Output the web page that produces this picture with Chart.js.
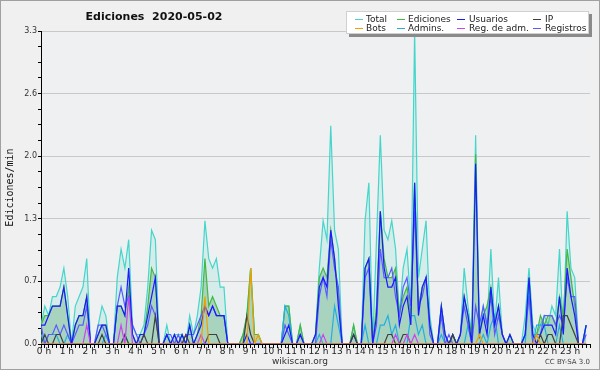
<!DOCTYPE html>
<html><head><meta charset="utf-8">
<script src="https://cdn.jsdelivr.net/npm/chart.js@4.4.1/dist/chart.umd.min.js"></script>
<style>html,body{margin:0;padding:0;background:#f0f0f0}canvas{display:block}</style>
</head><body>
<canvas id="c" width="600" height="370"></canvas>
<script>
// 10-minute slots (0..143) and hour tick labels
const slots = Array.from({length:144},(_,i)=>i);
const hourLabels = ['0 h','1 h','2 h','3 h','4 h','5 h','6 h','7 h','8 h','9 h','10 h','11 h','12 h','13 h','14 h','15 h','16 h','17 h','18 h','19 h','20 h','21 h','22 h','23 h'];
const seriesNames = ['Total','Ediciones','Usuarios','IP','Bots','Admins.','Reg. de adm.','Registros'];

const total = [
0.2,0.4,0.3,0.5,0.5,0.6, 0.8,0.5,0.0,0.4,0.5,0.6, 0.9,0.0,0.0,0.2,0.4,0.3, 0.0,0.0,0.7,1.0,0.8,1.1,
0.2,0.1,0.1,0.2,0.6,1.2, 1.1,0.0,0.0,0.2,0.0,0.1, 0.1,0.1,0.0,0.3,0.1,0.3, 0.6,1.3,0.9,0.8,0.9,0.6,
0.6,0.0,0.0,0.0,0.0,0.1, 0.3,0.8,0.1,0.1,0.0,0.0, 0.0,0.0,0.0,0.0,0.4,0.4, 0.0,0.0,0.2,0.0,0.0,0.0,
0.1,0.8,1.3,1.1,2.3,1.2, 1.0,0.0,0.0,0.0,0.2,0.0, 0.0,1.3,1.7,0.0,1.1,2.2, 1.2,1.1,1.3,1.0,0.3,0.8,
1.0,0.4,3.3,0.7,1.0,1.3, 0.3,0.0,0.0,0.4,0.1,0.0, 0.1,0.0,0.1,0.8,0.4,0.1, 2.2,0.1,0.4,0.2,1.0,0.2,
0.7,0.1,0.0,0.1,0.0,0.0, 0.0,0.3,0.8,0.2,0.1,0.2, 0.3,0.2,0.4,0.3,1.0,0.1, 1.4,0.8,0.7,0.0,0.0,0.2];

const ediciones = [
0.2,0.3,0.3,0.4,0.4,0.4, 0.6,0.3,0.0,0.2,0.3,0.3, 0.5,0.0,0.0,0.1,0.2,0.2, 0.0,0.0,0.4,0.4,0.3,0.6,
0.1,0.0,0.1,0.1,0.4,0.8, 0.7,0.0,0.0,0.1,0.0,0.1, 0.0,0.1,0.0,0.2,0.0,0.1, 0.3,0.9,0.4,0.5,0.4,0.3,
0.3,0.0,0.0,0.0,0.0,0.1, 0.3,0.8,0.1,0.1,0.0,0.0, 0.0,0.0,0.0,0.0,0.4,0.4, 0.0,0.0,0.2,0.0,0.0,0.0,
0.1,0.7,0.8,0.7,1.2,0.9, 0.5,0.0,0.0,0.0,0.2,0.0, 0.0,0.8,0.9,0.0,0.4,1.4, 0.9,0.7,0.7,0.8,0.3,0.5,
0.6,0.3,1.7,0.4,0.6,0.7, 0.2,0.0,0.0,0.4,0.1,0.0, 0.1,0.0,0.1,0.5,0.3,0.1, 2.0,0.1,0.3,0.4,0.6,0.2,
0.4,0.1,0.0,0.1,0.0,0.0, 0.0,0.1,0.7,0.1,0.1,0.3, 0.2,0.3,0.3,0.2,0.5,0.3, 1.0,0.7,0.4,0.0,0.0,0.2];

const usuarios = [
0.2,0.2,0.3,0.4,0.4,0.4, 0.6,0.3,0.0,0.2,0.3,0.3, 0.5,0.0,0.0,0.1,0.2,0.2, 0.0,0.0,0.4,0.4,0.3,0.8,
0.1,0.0,0.1,0.1,0.3,0.5, 0.7,0.0,0.0,0.1,0.0,0.1, 0.0,0.1,0.0,0.2,0.0,0.1, 0.2,0.4,0.3,0.4,0.3,0.3,
0.3,0.0,0.0,0.0,0.0,0.0, 0.1,0.0,0.0,0.0,0.0,0.0, 0.0,0.0,0.0,0.0,0.1,0.2, 0.0,0.0,0.1,0.0,0.0,0.0,
0.1,0.6,0.7,0.6,1.2,0.9, 0.4,0.0,0.0,0.0,0.1,0.0, 0.0,0.8,0.9,0.0,0.3,1.4, 0.8,0.6,0.6,0.7,0.2,0.4,
0.5,0.2,1.7,0.3,0.6,0.7, 0.2,0.0,0.0,0.4,0.1,0.0, 0.1,0.0,0.1,0.5,0.3,0.0, 1.9,0.1,0.3,0.1,0.6,0.2,
0.4,0.1,0.0,0.1,0.0,0.0, 0.0,0.1,0.7,0.1,0.0,0.1, 0.2,0.2,0.2,0.1,0.5,0.1, 0.8,0.5,0.3,0.0,0.0,0.2];

const ip = [
0,0.1,0,0,0.1,0.1, 0,0,0,0,0,0, 0,0,0,0,0.1,0, 0,0,0,0,0.1,0,
0,0,0,0.1,0,0, 0.3,0,0,0,0,0, 0,0,0.1,0,0,0, 0,0,0.1,0.1,0.1,0,
0,0,0,0,0,0, 0.3,0.1,0,0,0,0, 0,0,0,0,0,0, 0,0,0,0,0,0,
0,0,0,0,0,0, 0,0,0,0,0.1,0, 0,0,0,0,0,0, 0,0.1,0.1,0,0,0.1,
0.1,0,0,0,0,0, 0,0,0,0,0,0, 0.1,0,0,0,0,0, 0,0,0,0,0,0,
0,0,0,0,0,0, 0,0,0,0,0,0.1, 0,0.1,0.1,0,0,0.3, 0.3,0.2,0.1,0,0,0];

const bots = [
0,0,0,0,0,0, 0,0,0,0,0,0, 0,0,0,0,0,0, 0,0,0,0,0,0,
0,0,0,0,0,0, 0,0,0,0,0,0, 0,0,0,0,0,0, 0,0.5,0,0,0,0,
0,0,0,0,0,0, 0,0.8,0,0.1,0,0, 0,0,0,0,0,0, 0,0,0,0,0,0,
0,0,0,0,0,0, 0,0,0,0,0,0, 0,0,0,0,0,0, 0,0,0,0,0,0,
0,0,0,0,0,0, 0,0,0,0,0,0, 0,0,0,0,0,0, 0,0.1,0,0,0,0,
0,0,0,0,0,0, 0,0,0,0,0.1,0, 0,0,0,0,0,0, 0,0,0,0,0,0];

const admins = [
0.1,0,0.1,0.1,0.1,0, 0,0.1,0,0,0,0, 0,0,0,0,0,0.1, 0,0,0,0,0.1,0,
0,0,0,0,0,0, 0,0,0,0,0,0, 0,0,0,0,0,0, 0,0,0,0,0,0,
0,0,0,0,0,0, 0,0,0,0,0,0, 0,0,0,0,0.4,0.3, 0,0,0,0,0,0,
0,0.1,0,0,0,0.4, 0.2,0,0,0,0,0, 0,0.2,0,0,0,0.2, 0.2,0.3,0.1,0.2,0,0,
0,0.3,0.3,0.1,0.2,0, 0,0,0,0.1,0,0, 0,0,0,0,0.2,0, 0,0,0.1,0,0.2,0.3,
0,0,0,0,0,0, 0,0,0.6,0,0.2,0.2, 0.2,0,0,0,0.2,0, 0,0,0,0,0,0.2];

const regAdm = [
0,0,0,0,0,0, 0,0,0,0,0,0, 0.2,0,0,0,0,0, 0,0,0,0.2,0,0.5,
0,0,0,0,0,0, 0,0,0,0,0,0, 0,0,0,0,0,0, 0.1,0,0,0,0,0,
0,0,0,0,0,0, 0,0,0,0,0,0, 0,0,0,0,0,0, 0,0,0,0,0,0,
0,0,0.1,0,0,0, 0,0,0,0,0,0, 0,0,0,0,0,0, 0,0,0,0.1,0,0,
0.1,0,0.1,0,0,0, 0,0,0,0,0,0, 0,0,0,0,0,0, 0,0,0,0,0,0,
0,0,0,0,0,0, 0,0,0,0,0,0, 0,0,0,0,0,0, 0,0,0,0,0,0];

const registros = [
0.2,0.0,0.1,0.1,0.2,0.1, 0.2,0.1,0.0,0.1,0.2,0.2, 0.4,0.0,0.0,0.2,0.2,0.1, 0.0,0.0,0.4,0.6,0.4,0.5,
0.2,0.1,0.0,0.1,0.2,0.4, 0.3,0.0,0.0,0.1,0.1,0.0, 0.1,0.0,0.1,0.1,0.1,0.2, 0.3,0.4,0.3,0.4,0.3,0.3,
0.3,0.0,0.0,0.0,0.0,0.0, 0.0,0.0,0.0,0.0,0.0,0.0, 0.0,0.0,0.0,0.0,0.2,0.1, 0.0,0.0,0.1,0.0,0.0,0.0,
0.0,0.5,0.7,0.5,1.1,0.8, 0.6,0.0,0.0,0.0,0.0,0.0, 0.0,0.7,0.8,0.0,0.2,1.0, 0.7,0.7,0.8,0.5,0.3,0.6,
0.7,0.4,1.4,0.4,0.5,0.7, 0.1,0.0,0.0,0.3,0.0,0.1, 0.0,0.0,0.1,0.4,0.2,0.0, 0.4,0.2,0.4,0.2,0.5,0.1,
0.3,0.1,0.0,0.0,0.0,0.0, 0.0,0.1,0.5,0.0,0.1,0.1, 0.3,0.3,0.3,0.2,0.3,0.2, 0.7,0.5,0.5,0.0,0.0,0.1];

const colors = ['#44d6ca','#44b844','#1a1aff','#404040','#f0a000','#22b0e2','#cc44ee','#5a5aff'];
const seriesData = [total, ediciones, usuarios, ip, bots, admins, regAdm, registros];
const drawOrder = [10, 9, 5, 4, 2, 7, 3, 6];
const fills = ['rgba(90,215,195,0.16)','rgba(75,160,95,0.32)',false,false,false,false,false,false];

const datasets = seriesNames.map((n,k)=>({
  label:n, data:seriesData[k], borderColor:colors[k], backgroundColor:fills[k]||colors[k],
  fill: fills[k] ? 'origin' : false, order:drawOrder[k], borderWidth:1.2, pointRadius:0, tension:0
}));

const FONT = 'DejaVu Sans';
const deco = {
  id:'deco',
  beforeDraw(chart){
    const c = chart.ctx, a = chart.chartArea;
    c.save();
    c.fillStyle = '#f0f0f0'; c.fillRect(0,0,600,370);
    c.fillStyle = '#eef0f2'; c.fillRect(a.left,a.top,a.right-a.left,a.bottom-a.top);
    c.restore();
  },
  afterDraw(chart){
    const c = chart.ctx;
    c.save();
    // title
    c.fillStyle = '#111'; c.font = 'bold 11px "'+FONT+'"'; c.textAlign='center'; c.textBaseline='middle';
    c.fillText('Ediciones  2020-05-02', 154, 17);
    // legend box
    c.fillStyle = '#8a8a8a'; c.fillRect(349,14,243,23);
    c.fillStyle = '#ffffff'; c.fillRect(346,11,243,23);
    c.strokeStyle = '#d0d0d0'; c.lineWidth = 1; c.strokeRect(346.5,11.5,242,22);
    const cols = [[355,366],[397,408],[457,469],[533,545]];
    c.font = '9px "'+FONT+'"'; c.textAlign='left'; c.textBaseline='middle';
    chart.data.datasets.forEach((ds,k)=>{
      const row = k<4?0:1, col = k%4;
      const y = row===0?19.5:28.5;
      c.strokeStyle = ds.borderColor; c.lineWidth = 1;
      c.beginPath(); c.moveTo(cols[col][0], y); c.lineTo(cols[col][0]+8, y); c.stroke();
      c.fillStyle = '#222'; c.fillText(ds.label, cols[col][1], y);
    });
    // footer
    c.fillStyle = '#333'; c.font = '9px "'+FONT+'"'; c.textAlign='center';
    c.fillText('wikiscan.org', 300, 362);
    c.font = '7px "'+FONT+'"'; c.textAlign='right'; c.fillStyle='#444';
    c.fillText('CC BY-SA 3.0', 590, 362);
    // outer border
    c.strokeStyle = '#a0a0a0'; c.lineWidth = 1; c.strokeRect(0.5,0.5,599,369);
    c.restore();
  }
};

new Chart(document.getElementById('c'), {
  type:'line',
  data:{labels:slots, datasets},
  plugins:[deco],
  options:{
    responsive:false, animation:false, devicePixelRatio:1,
    layout:{padding:{top:31,right:10,bottom:9,left:0}},
    plugins:{legend:{display:false}, title:{display:false}, tooltip:{enabled:false}},
    scales:{
      x:{type:'linear', min:0, max:144, position:'bottom',
        ticks:{stepSize:1, autoSkip:false, maxTicksLimit:200, maxRotation:0, minRotation:0,
          labelOffset:3, padding:-2, color:'#222', font:{family:FONT,size:9},
          callback:(v)=> (v%6===0 && v<144) ? hourLabels[v/6] : ''},
        grid:{drawOnChartArea:false, tickLength:4, tickColor:'#000', color:'#000'},
        border:{color:'#000', width:1},
        afterFit:(s)=>{s.height=17;}
      },
      y:{min:0, max:3.3,
        ticks:{stepSize:0.165, autoSkip:false, maxTicksLimit:30, padding:1, color:'#333',
          font:{family:FONT,size:8},
          callback:(v,i)=> i%4===0 ? v.toFixed(1) : ''},
        grid:{color:(ctx)=> ctx.index%4===0 ? '#c8c8c8' : 'rgba(0,0,0,0)', tickColor:'#000', tickLength:3},
        border:{color:'#000', width:1},
        title:{display:true, text:'Ediciones/min', color:'#111', font:{family:'DejaVu Sans Mono', size:10}, padding:{top:4,bottom:0}},
        afterFit:(s)=>{s.width=41;}
      }
    }
  }
});
</script>
</body></html>
